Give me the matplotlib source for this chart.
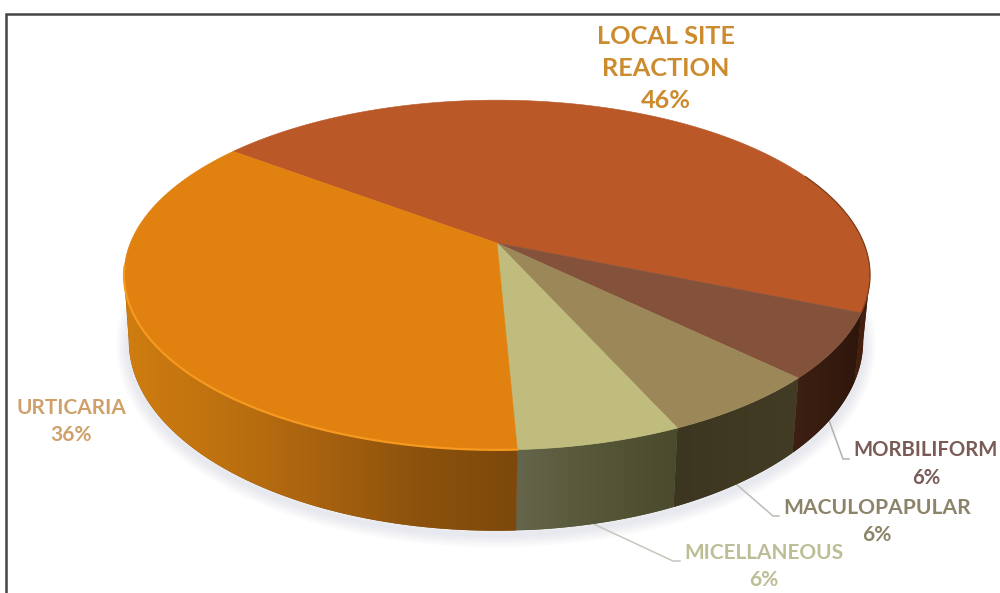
#!/usr/bin/env python
import numpy as np
import matplotlib
matplotlib.use('Agg')
import matplotlib.pyplot as plt
from matplotlib.colors import LinearSegmentedColormap
from matplotlib.patches import Polygon

# slices, clockwise from the far left edge of the red wedge
categories = ['LOCAL SITE\nREACTION', 'MORBILIFORM', 'MACULOPAPULAR', 'MICELLANEOUS', 'URTICARIA']
values = [46, 6, 6, 6, 36]

top_colors = ['#BA5828', '#84523A', '#9C8758', '#BFBC7E', '#E08110']
side_colors = [['#4A2210', '#3E1C0D'],
               ['#3E2013', '#2E160C'],
               ['#3C3620', '#433C25'],
               ['#64654A', '#565638', '#4A4A2C'],
               ['#CF7D0F', '#BE7110', '#A8620F', '#8C520D', '#7C480B']]
text_colors = ['#CB8B2E', '#7A5B55', '#8C8468', '#BDBD96', '#CFA06A']

label_xy = [(666, 36), (926, 450), (877, 508), (764, 553), (71, 408)]
label_size = [18.2, 14.6, 15.1, 15.0, 15.0]
line_gap = [32, 28, 27, 27, 27]

start_angle = 143.0
cx = 497.0
k = 0.183  # perspective foreshortening of the disc


def top_face(theta):
    d = 1 + k*np.sin(theta)
    return cx + 366.7*np.cos(theta)/d, 243 - 169.0*np.sin(theta)/d


def bottom_face(theta):
    d = 1 + k*np.sin(theta)
    return cx - 1 + 361.0*np.cos(theta)/d, 306 - 183.6*np.sin(theta)/d


fig = plt.figure(figsize=(10.0,5.93), dpi=100)
ax = fig.add_axes([0,0,1,1])
ax.set_xlim(0,1000)
ax.set_ylim(593,0)
ax.axis('off')

# frame, open on the right and at the bottom
ax.plot([6,6,1000],[593,14,14],color='#454545',lw=1.8,zorder=1,solid_joinstyle='miter')

# soft shadow under the disc
front = np.linspace(np.radians(-178),np.radians(-2),300)
sx,sy = bottom_face(front)
for lw in np.arange(18,2,-3):
    ax.plot(sx,sy+4,color='#9AA6C0',lw=lw,alpha=0.04,zorder=2,solid_capstyle='round')
ax.add_patch(Polygon(np.column_stack([sx,sy]),closed=True,fc='white',ec='none',zorder=2.5))

# sweep of each slice from its value
shares = np.array(values)/float(sum(values))*360.
ends = start_angle - np.cumsum(shares)
starts = ends + shares

# side wall is visible only between the two silhouette points
vis_hi = -np.degrees(np.arcsin(k))
vis_lo = -180 - vis_hi

for i in range(len(values)):
    hi = min(starts[i],vis_hi)
    lo = max(ends[i],vis_lo)
    if hi <= lo:
        continue
    t = np.radians(np.linspace(hi,lo,120))
    x1,y1 = top_face(t)
    x2,y2 = bottom_face(t)
    poly = Polygon(np.column_stack([np.r_[x1,x2[::-1]],np.r_[y1,y2[::-1]]]),closed=True,
                   fc=side_colors[i][-1],ec='none',zorder=3)
    ax.add_patch(poly)
    cmap = LinearSegmentedColormap.from_list('side%d'%i,side_colors[i])
    xs = np.r_[x1,x2]
    ys = np.r_[y1,y2]
    im = ax.imshow(np.linspace(0,1,256).reshape(1,-1),cmap=cmap,aspect='auto',interpolation='bilinear',
                   extent=[xs.min(),xs.max(),ys.max(),ys.min()],zorder=3.1)
    im.set_clip_path(poly)
ax.set_xlim(0,1000)
ax.set_ylim(593,0)

# top of the disc
for i in range(len(values)):
    t = np.radians(np.linspace(starts[i],ends[i],200))
    x1,y1 = top_face(t)
    ax.add_patch(Polygon(np.column_stack([np.r_[cx,x1],np.r_[243,y1]]),closed=True,
                         fc=top_colors[i],ec=top_colors[i],lw=0.4,zorder=4))

# lit rim on the orange slice, thin dark edge on the red one
t = np.radians(np.linspace(-172,ends[3],200))
x1,y1 = top_face(t)
ax.plot(x1,y1,color='#F6991F',lw=1.6,zorder=5)
t = np.radians(np.linspace(25,ends[0],100))
x1,y1 = top_face(t)
ax.plot(x1,y1,color='#7E3F1E',lw=0.9,zorder=5)

# leader lines for the three small slices, tucked in behind the side wall
ax.plot([826,843,849],[412,459,459],color='#B5B0A8',lw=1.1,zorder=2.8)
ax.plot([728,773,779],[477,516,516],color='#BDBDB5',lw=1.1,zorder=2.8)
ax.plot([585,673,680],[520,561,561],color='#C6C6BE',lw=1.1,zorder=2.8)

# category names with their percentages below
for i in range(len(values)):
    lines = categories[i].split('\n') + ['%d%%'%values[i]]
    x,y = label_xy[i]
    for j,s in enumerate(lines):
        ax.text(x,y+j*line_gap[i],s,color=text_colors[i],fontsize=label_size[i],family='Lato',
                fontweight='bold',ha='center',va='center',zorder=6)

plt.savefig('out.png',dpi=100)
plt.close()
